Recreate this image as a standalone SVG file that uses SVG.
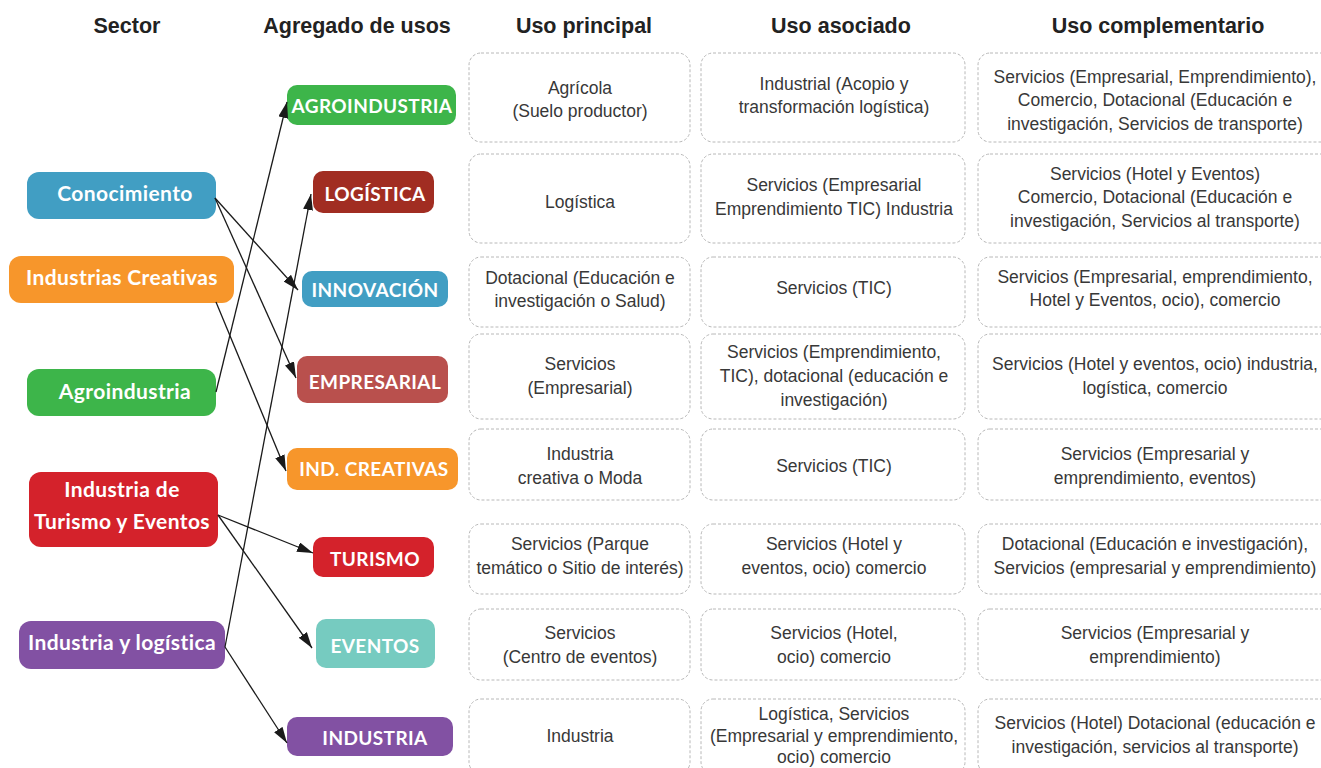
<svg xmlns="http://www.w3.org/2000/svg" width="1321" height="768" viewBox="0 0 1321 768">
<defs>
<style>
.hdr{font-family:"Liberation Sans",Arial,sans-serif;font-weight:bold;font-size:21.5px;fill:#222;text-anchor:middle}
.sec{font-family:Lato,"Noto Sans",sans-serif;font-weight:bold;font-size:21px;fill:#fff;text-anchor:middle;letter-spacing:0.4px}
.agr{font-family:Lato,"Noto Sans",sans-serif;font-weight:bold;font-size:19px;fill:#fff;text-anchor:middle;letter-spacing:0.4px}
.cell{fill:#fff;stroke:#b8b8b8;stroke-width:1;stroke-dasharray:3 2}
.ct{font-family:"Liberation Sans",Arial,sans-serif;font-size:17.5px;fill:#383838;text-anchor:middle}
.con{stroke:#1a1a1a;stroke-width:1.3;fill:none;marker-end:url(#arr)}
.blue{fill:#419ec3}.orange{fill:#f7962b}.green{fill:#3db54a}.red{fill:#d4222b}
.dred{fill:#a12d22}.brick{fill:#b9504d}.teal{fill:#76cbc0}.purple{fill:#8251a3}
</style>
<marker id="arr" markerUnits="userSpaceOnUse" markerWidth="16" markerHeight="10" refX="16" refY="5" orient="auto">
<path d="M0,0 L16,5 L0,10 z" fill="#1a1a1a"/>
</marker>
</defs>
<rect width="1321" height="768" fill="#fff"/>

<g id="headers">
<text class="hdr" x="127" y="33">Sector</text>
<text class="hdr" x="357" y="33">Agregado de usos</text>
<text class="hdr" x="584" y="33">Uso principal</text>
<text class="hdr" x="841" y="33">Uso asociado</text>
<text class="hdr" x="1158" y="33">Uso complementario</text>
</g>

<g id="sector-conocimiento"><rect class="blue" x="27" y="172" width="189" height="47" rx="12"/><text class="sec" x="125" y="201">Conocimiento</text></g>
<g id="sector-industrias-creativas"><rect class="orange" x="9" y="256" width="225" height="47" rx="12"/><text class="sec" x="122" y="285">Industrias Creativas</text></g>
<g id="sector-agroindustria"><rect class="green" x="27" y="369" width="189" height="47" rx="12"/><text class="sec" x="125" y="399">Agroindustria</text></g>
<g id="sector-turismo"><rect class="red" x="29" y="472" width="189" height="75" rx="12"/><text class="sec" x="122" y="497">Industria de</text><text class="sec" x="122" y="529">Turismo y Eventos</text></g>
<g id="sector-industria-logistica"><rect class="purple" x="19" y="621" width="206" height="48" rx="12"/><text class="sec" x="122" y="650">Industria y logística</text></g>

<g id="agr-agroindustria"><rect class="green" x="287" y="85" width="169" height="40" rx="10"/><text class="agr" x="372" y="113">AGROINDUSTRIA</text></g>
<g id="agr-logistica"><rect class="dred" x="313" y="171" width="121" height="42" rx="10"/><text class="agr" x="375" y="201">LOGÍSTICA</text></g>
<g id="agr-innovacion"><rect class="blue" x="302" y="271" width="146" height="36" rx="10"/><text class="agr" x="375" y="297">INNOVACIÓN</text></g>
<g id="agr-empresarial"><rect class="brick" x="297" y="356" width="151" height="47" rx="10"/><text class="agr" x="375" y="389">EMPRESARIAL</text></g>
<g id="agr-ind-creativas"><rect class="orange" x="287" y="448" width="171" height="42" rx="10"/><text class="agr" x="374" y="476">IND. CREATIVAS</text></g>
<g id="agr-turismo"><rect class="red" x="313" y="537" width="121" height="40" rx="10"/><text class="agr" x="375" y="566">TURISMO</text></g>
<g id="agr-eventos"><rect class="teal" x="316" y="619" width="119" height="49" rx="10"/><text class="agr" x="375" y="653">EVENTOS</text></g>
<g id="agr-industria"><rect class="purple" x="287" y="717" width="166" height="39" rx="10"/><text class="agr" x="375" y="745">INDUSTRIA</text></g>

<g id="connectors">
<line class="con" x1="215" y1="198" x2="298" y2="290"/>
<line class="con" x1="215" y1="198" x2="296" y2="378"/>
<line class="con" x1="216" y1="302" x2="286" y2="471"/>
<line class="con" x1="216" y1="392" x2="287" y2="102"/>
<line class="con" x1="218" y1="515" x2="313" y2="553"/>
<line class="con" x1="218" y1="515" x2="312" y2="648"/>
<line class="con" x1="225" y1="647" x2="311" y2="194"/>
<line class="con" x1="225" y1="647" x2="287" y2="743"/>
</g>

<g id="row1">
<rect class="cell" x="469" y="53" width="221" height="89" rx="12"/>
<text class="ct" x="580" y="94">Agrícola</text><text class="ct" x="580" y="117">(Suelo productor)</text>
<rect class="cell" x="701" y="53" width="264" height="89" rx="12"/>
<text class="ct" x="834" y="90">Industrial (Acopio y</text><text class="ct" x="834" y="113">transformación logística)</text>
<rect class="cell" x="978" y="53" width="356" height="89" rx="12"/>
<text class="ct" x="1155" y="83">Servicios (Empresarial, Emprendimiento),</text><text class="ct" x="1155" y="106">Comercio, Dotacional (Educación e</text><text class="ct" x="1155" y="130">investigación, Servicios de transporte)</text>
</g>
<g id="row2">
<rect class="cell" x="469" y="154" width="221" height="89" rx="12"/>
<text class="ct" x="580" y="208">Logística</text>
<rect class="cell" x="701" y="154" width="264" height="89" rx="12"/>
<text class="ct" x="834" y="191">Servicios (Empresarial</text><text class="ct" x="834" y="215">Emprendimiento TIC) Industria</text>
<rect class="cell" x="978" y="154" width="356" height="89" rx="12"/>
<text class="ct" x="1155" y="180">Servicios (Hotel y Eventos)</text><text class="ct" x="1155" y="203">Comercio, Dotacional (Educación e</text><text class="ct" x="1155" y="227">investigación, Servicios al transporte)</text>
</g>
<g id="row3">
<rect class="cell" x="469" y="257" width="221" height="70" rx="12"/>
<text class="ct" x="580" y="284">Dotacional (Educación e</text><text class="ct" x="580" y="307">investigación o Salud)</text>
<rect class="cell" x="701" y="257" width="264" height="70" rx="12"/>
<text class="ct" x="834" y="294">Servicios (TIC)</text>
<rect class="cell" x="978" y="257" width="356" height="70" rx="12"/>
<text class="ct" x="1155" y="283">Servicios (Empresarial, emprendimiento,</text><text class="ct" x="1155" y="306">Hotel y Eventos, ocio), comercio</text>
</g>
<g id="row4">
<rect class="cell" x="469" y="334" width="221" height="85" rx="12"/>
<text class="ct" x="580" y="370">Servicios</text><text class="ct" x="580" y="394">(Empresarial)</text>
<rect class="cell" x="701" y="334" width="264" height="85" rx="12"/>
<text class="ct" x="834" y="358">Servicios (Emprendimiento,</text><text class="ct" x="834" y="382">TIC), dotacional (educación e</text><text class="ct" x="834" y="406">investigación)</text>
<rect class="cell" x="978" y="334" width="356" height="85" rx="12"/>
<text class="ct" x="1155" y="370">Servicios (Hotel y eventos, ocio) industria,</text><text class="ct" x="1155" y="394">logística, comercio</text>
</g>
<g id="row5">
<rect class="cell" x="469" y="429" width="221" height="71" rx="12"/>
<text class="ct" x="580" y="460">Industria</text><text class="ct" x="580" y="484">creativa o Moda</text>
<rect class="cell" x="701" y="429" width="264" height="71" rx="12"/>
<text class="ct" x="834" y="472">Servicios (TIC)</text>
<rect class="cell" x="978" y="429" width="356" height="71" rx="12"/>
<text class="ct" x="1155" y="460">Servicios (Empresarial y</text><text class="ct" x="1155" y="484">emprendimiento, eventos)</text>
</g>
<g id="row6">
<rect class="cell" x="469" y="524" width="221" height="70" rx="12"/>
<text class="ct" x="580" y="550">Servicios (Parque</text><text class="ct" x="580" y="574">temático o Sitio de interés)</text>
<rect class="cell" x="701" y="524" width="264" height="70" rx="12"/>
<text class="ct" x="834" y="550">Servicios (Hotel y</text><text class="ct" x="834" y="574">eventos, ocio) comercio</text>
<rect class="cell" x="978" y="524" width="356" height="70" rx="12"/>
<text class="ct" x="1155" y="550">Dotacional (Educación e investigación),</text><text class="ct" x="1155" y="574">Servicios (empresarial y emprendimiento)</text>
</g>
<g id="row7">
<rect class="cell" x="469" y="609" width="221" height="71" rx="12"/>
<text class="ct" x="580" y="639">Servicios</text><text class="ct" x="580" y="663">(Centro de eventos)</text>
<rect class="cell" x="701" y="609" width="264" height="71" rx="12"/>
<text class="ct" x="834" y="639">Servicios (Hotel,</text><text class="ct" x="834" y="663">ocio) comercio</text>
<rect class="cell" x="978" y="609" width="356" height="71" rx="12"/>
<text class="ct" x="1155" y="639">Servicios (Empresarial y</text><text class="ct" x="1155" y="663">emprendimiento)</text>
</g>
<g id="row8">
<rect class="cell" x="469" y="699" width="221" height="75" rx="12"/>
<text class="ct" x="580" y="742">Industria</text>
<rect class="cell" x="701" y="699" width="264" height="75" rx="12"/>
<text class="ct" x="834" y="720">Logística, Servicios</text><text class="ct" x="834" y="742">(Empresarial y emprendimiento,</text><text class="ct" x="834" y="763">ocio) comercio</text>
<rect class="cell" x="978" y="699" width="356" height="75" rx="12"/>
<text class="ct" x="1155" y="729">Servicios (Hotel) Dotacional (educación e</text><text class="ct" x="1155" y="753">investigación, servicios al transporte)</text>
</g>
</svg>
